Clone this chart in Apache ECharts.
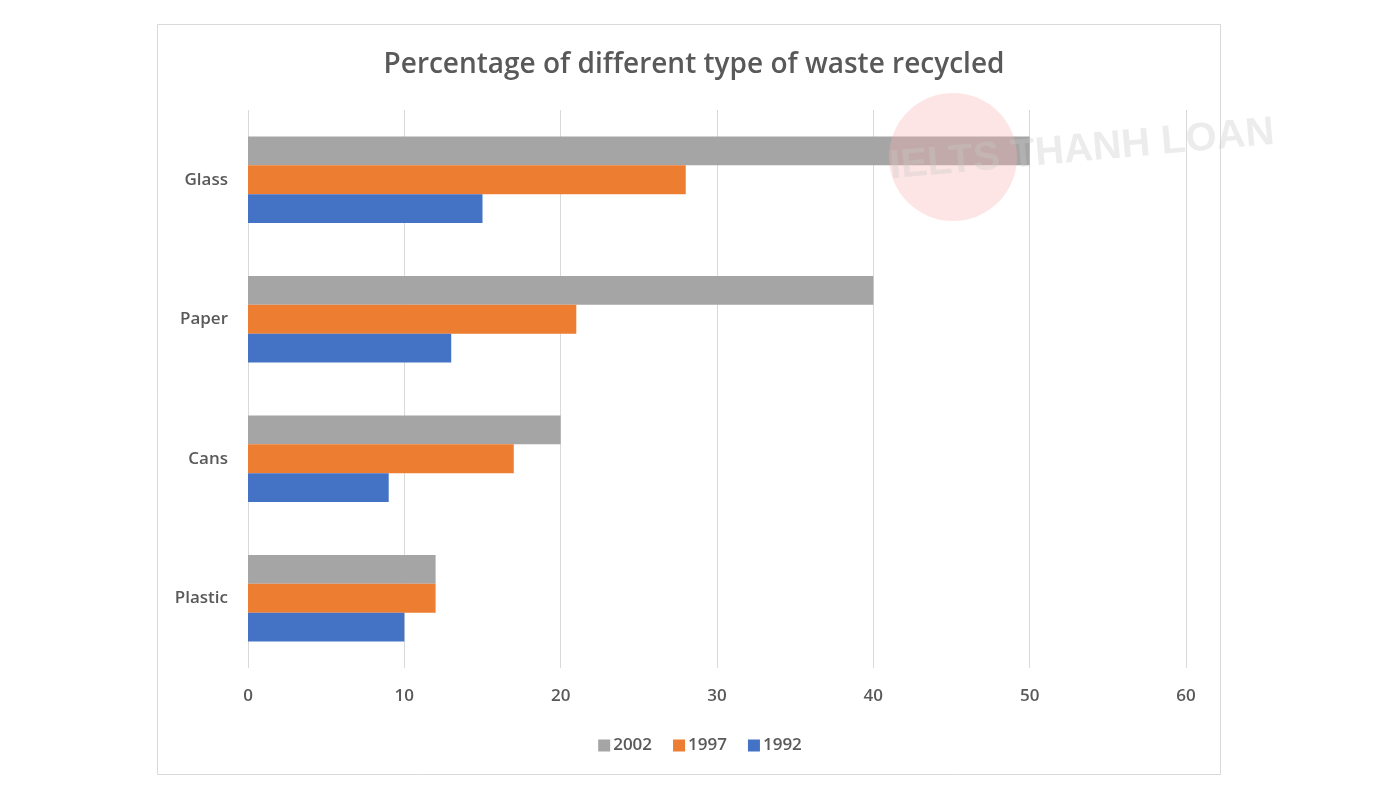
<!DOCTYPE html>
<html><head><meta charset="utf-8">
<script src="https://cdn.jsdelivr.net/npm/echarts@6/dist/echarts.min.js"></script>
<style>html,body{margin:0;padding:0;background:#fff}#c{width:1400px;height:800px}</style>
</head><body><div id="c"></div>
<script>
const categories = ['Plastic', 'Cans', 'Paper', 'Glass'];
const values1992 = [10, 9, 13, 15];
const values1997 = [12, 17, 21, 28];
const values2002 = [12, 20, 40, 50];
const xTicks = [0, 10, 20, 30, 40, 50, 60];

const chart = echarts.init(document.getElementById('c'));
const font = 'Open Sans';
chart.setOption({
  animation: false,
  backgroundColor: '#fff',
  title: {
    text: 'Percentage of different type of waste recycled',
    left: 689, top: 46, textAlign: 'center',
    textStyle: {fontFamily: font, fontSize: 28, fontWeight: 600, color: '#595959'}
  },
  graphic: [
    {type: 'rect', shape: {x: 157.5, y: 24.5, width: 1063, height: 750}, style: {fill: 'none', stroke: '#d9d9d9', lineWidth: 1}, z: -10},
    {type: 'circle', shape: {cx: 953, cy: 157, r: 64}, style: {fill: 'rgba(250,180,180,0.35)'}, z: 100},
    {type: 'text', x: 1082, y: 150, rotation: 0.09, style: {text: 'IELTS THANH LOAN', font: 'bold 40px "Liberation Sans Narrow", "Liberation Sans"', fill: 'rgba(200,200,200,0.35)', align: 'center', verticalAlign: 'middle'}, z: 101}
  ],
  legend: {
    data: ['2002', '1997', '1992'],
    left: 'center', top: 732,
    itemWidth: 12, itemHeight: 12, itemGap: 21,
    icon: 'rect',
    textStyle: {fontFamily: font, fontSize: 17, fontWeight: 600, color: '#595959', padding: [0, 0, 0, -2]}
  },
  grid: {left: 248, right: 214, top: 110, bottom: 132},
  xAxis: {
    type: 'value', min: xTicks[0], max: xTicks[xTicks.length - 1], interval: 10,
    axisLine: {show: false}, axisTick: {show: false},
    splitLine: {lineStyle: {color: '#d9d9d9', width: 1}},
    axisLabel: {margin: 20, fontFamily: font, fontSize: 17, fontWeight: 600, color: '#595959'}
  },
  yAxis: {
    type: 'category', data: categories,
    axisLine: {show: false}, axisTick: {show: false},
    axisLabel: {margin: 20, fontFamily: font, fontSize: 17, fontWeight: 600, color: '#595959'}
  },
  series: [
    {name: '2002', type: 'bar', data: values2002, itemStyle: {color: '#A5A5A5'}, barGap: '0%', barCategoryGap: '38%'},
    {name: '1997', type: 'bar', data: values1997, itemStyle: {color: '#ED7D31'}},
    {name: '1992', type: 'bar', data: values1992, itemStyle: {color: '#4472C4'}}
  ]
});
</script></body></html>
